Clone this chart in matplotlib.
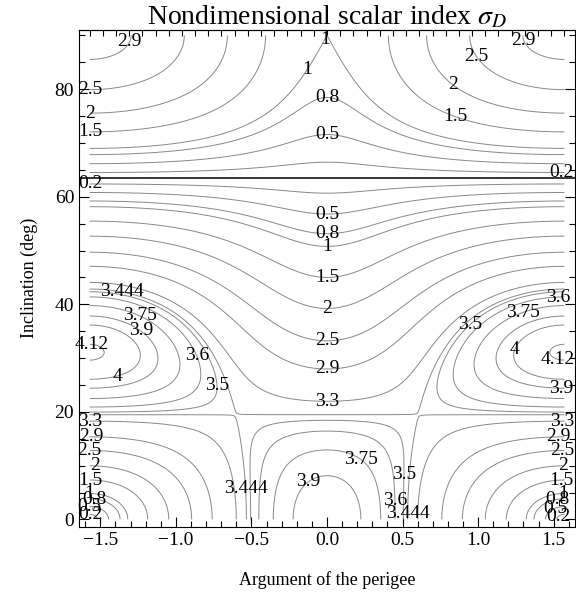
import matplotlib
matplotlib.use('Agg')
import matplotlib.pyplot as plt
from matplotlib.ticker import MultipleLocator
import numpy as np

plt.rcParams['font.family'] = ['Liberation Serif', 'DejaVu Serif']
plt.rcParams['mathtext.fontset'] = 'stix'

# contour levels shown on the chart
levels = [0.2, 0.5, 0.8, 1, 1.5, 2, 2.5, 2.9, 3.3, 3.444, 3.5, 3.6, 3.75, 3.9, 4, 4.12]

# where each level is labelled (argument of perigee [rad], inclination [deg])
label_spots = {
    0.2: [(-1.567, 1.1), (-1.567, 61.6), (1.55, 64.3), (1.53, 0.8)],
    0.5: [(-1.59, 3.3), (0.0, 71.1), (0.0, 56.3), (1.51, 2.3)],
    0.8: [(-1.535, 4.5), (0.0, 77.6), (0.0, 52.9), (1.52, 4.2)],
    1: [(-1.59, 5.5), (0.0, 89.1), (-0.115, 83.5), (0.0, 50.2), (1.565, 5.5)],
    1.5: [(-1.567, 7.5), (-1.567, 71.3), (0.84, 74.3), (0.0, 44.6), (1.555, 7.3)],
    2: [(-1.535, 10.4), (-1.58, 74.8), (0.82, 80.2), (0.0, 39.3), (1.565, 10.4)],
    2.5: [(-1.58, 12.9), (-1.567, 78.9), (0.97, 85.7), (0.0, 33.0), (1.555, 12.9)],
    2.9: [(-1.557, 15.7), (-1.30, 88.7), (1.27, 88.8), (0.0, 28.0), (1.53, 16.0)],
    3.3: [(-1.567, 18.1), (0.0, 22.3), (1.555, 18.5)],
    3.444: [(-1.36, 42.2), (-0.534, 5.7), (0.53, 1.1)],
    3.5: [(-0.732, 24.9), (0.956, 36.1), (0.51, 8.3)],
    3.6: [(-0.864, 30.4), (1.53, 41.0), (0.444, 3.6)],
    3.75: [(-1.24, 37.7), (1.30, 38.2), (0.224, 11.3)],
    3.9: [(-1.24, 34.8), (1.55, 25.0), (-0.128, 7.3)],
    4: [(-1.39, 26.8), (1.25, 31.5)],
    4.12: [(-1.557, 32.3), (1.53, 30.0)],
}

# scalar index over argument of perigee and inclination
omega = np.linspace(-np.pi / 2, np.pi / 2, 901)
incl = np.linspace(0, 90, 901)
W, I = np.meshgrid(omega, incl)
s = np.sin(np.radians(I))
sigma = np.abs(4 - 5 * s**2) * np.sqrt(np.cos(W)**2 + 9 * s**2 * np.sin(W)**2)
i_crit = np.degrees(np.arcsin(np.sqrt(4 / 5)))

fig = plt.figure(figsize=(5.76, 6.03), dpi=100)
ax = fig.add_axes([79 / 576, 76.3 / 603, 496 / 576, 496.7 / 603])
ax.set_xlim(-1.641, 1.641)
ax.set_ylim(-1.35, 91.0)

cs = ax.contour(W, I, sigma, levels=levels, colors='#888888', linewidths=0.7)
ax.axhline(i_crit, color='black', lw=1.1)

# put each label on the nearest point of its own contour
for k, lv in enumerate(levels):
    segs = [sg for sg in cs.allsegs[k] if len(sg)]
    if not segs:
        continue
    pts = np.vstack(segs)
    disp = ax.transData.transform(pts)
    for x, y in label_spots[lv]:
        d = np.hypot(*(disp - ax.transData.transform((x, y))).T)
        px, py = pts[np.argmin(d)]
        ax.text(px, py, '%g' % lv, fontsize=14, ha='center', va='center',
                color='black', zorder=5)

ax.set_xticks([-1.5, -1.0, -0.5, 0.0, 0.5, 1.0, 1.5])
ax.set_yticks([0, 20, 40, 60, 80])
ax.xaxis.set_minor_locator(MultipleLocator(0.1))
ax.yaxis.set_minor_locator(MultipleLocator(5))
ax.tick_params(which='both', direction='in', top=False, right=True,
               labelsize=14, width=0.8)
ax.tick_params(which='major', length=7)
ax.tick_params(which='minor', length=4)
for sp in ax.spines.values():
    sp.set_linewidth(0.8)

# top frame carries plain ticks every 5 degrees of perigee argument
top = ax.secondary_xaxis('top')
top.set_xticks(np.radians(np.arange(-90, 91, 5)))
top.set_xticklabels([])
top.tick_params(direction='in', length=4, width=0.8)
top.spines['top'].set_linewidth(0.8)

ax.set_xlabel('Argument of the perigee', fontsize=13, labelpad=16)
ax.set_ylabel('Inclination (deg)', fontsize=13, labelpad=12)
ax.set_title(r'Nondimensional scalar index $\sigma_D$', fontsize=20, pad=4)

fig.savefig('out.png', dpi=100)
